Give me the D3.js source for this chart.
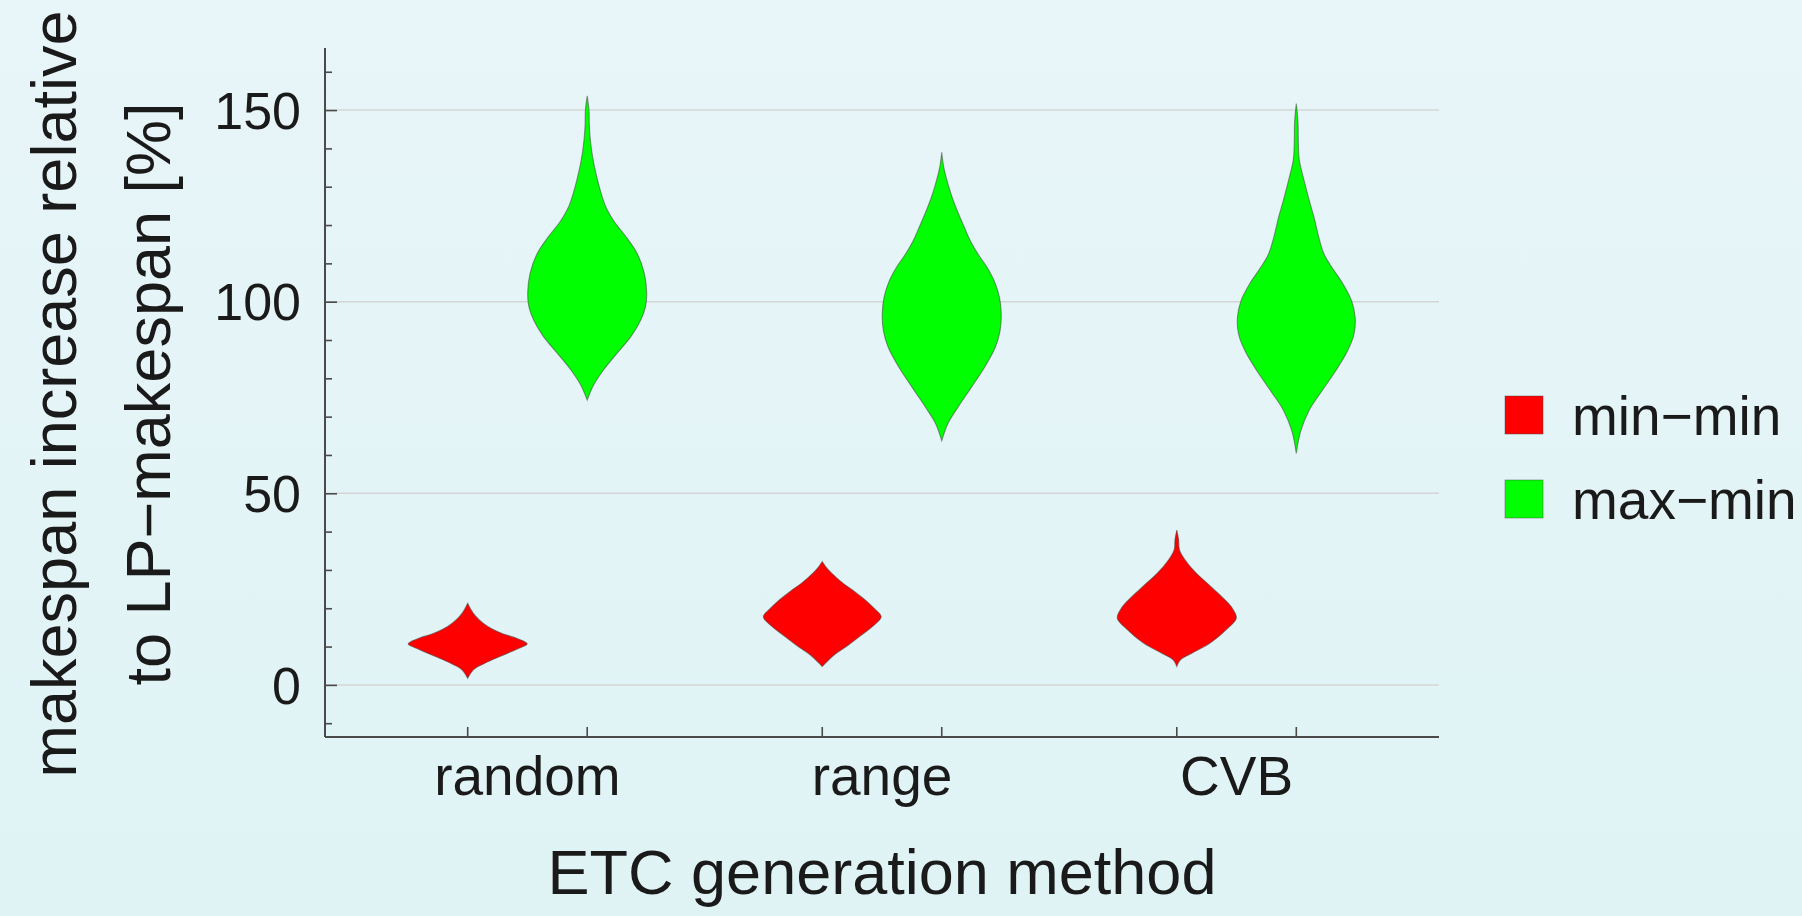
<!DOCTYPE html>
<html>
<head>
<meta charset="utf-8">
<script src="https://cdn.jsdelivr.net/npm/d3@7"></script>
<style>
  html, body { margin: 0; padding: 0; }
  svg { display: block; }
  text { font-family: "Liberation Sans", Arial, Helvetica, sans-serif; fill: #1a1a1a; }
</style>
</head>
<body>
<svg id="chart" width="1802" height="916"></svg>
<script>
// ---------- data ----------
const categories = ["random", "range", "CVB"];
const series = ["min\u2212min", "max\u2212min"];
const seriesColors = ["#ff0000", "#00ff00"];
const yTicks = [0, 50, 100, 150];
const yMinorTicks = [-10, 10, 20, 30, 40, 60, 70, 80, 90, 110, 120, 130, 140, 160];
const xTitle = "ETC generation method";
const yTitleLines = ["makespan increase relative", "to LP\u2212makespan [%]"];

// violin profiles: [value, relative density]
const minminRandom = [[21.3,0],[19.5,0.06],[18.0,0.13],[16.1,0.26],[14.5,0.42],[13.3,0.6],[12.3,0.8],[11.3,0.95],[10.7,1.0],[10.0,0.93],[9.0,0.78],[7.4,0.54],[5.6,0.28],[4.0,0.1],[1.7,0]];
const maxminRandom = [[153.7,0],[150,0.03],[146,0.036],[142,0.055],[137,0.1],[132,0.17],[128,0.24],[124.5,0.32],[121,0.45],[117,0.65],[112.6,0.84],[107.4,0.96],[102.2,1.0],[98.7,0.98],[95.2,0.9],[91,0.74],[86.5,0.5],[82.1,0.27],[78,0.1],[74.3,0]];
const minminRange = [[32.2,0],[30.6,0.07],[29.1,0.16],[26.5,0.35],[24.4,0.54],[22.2,0.72],[20,0.87],[17.8,0.99],[15.7,0.88],[13,0.66],[10.4,0.44],[7.8,0.2],[4.8,0]];
const maxminRange = [[139,0],[135,0.035],[131,0.1],[127,0.18],[123,0.28],[119.4,0.38],[115.9,0.48],[112.4,0.61],[109,0.76],[105.5,0.88],[101.1,0.97],[96.8,1.0],[92.4,0.98],[88.1,0.9],[82.9,0.72],[77.7,0.5],[72.4,0.27],[68.1,0.1],[63.7,0]];
const minminCVB = [[40.4,0],[38,0.03],[35.2,0.045],[32.6,0.14],[29.1,0.33],[25.7,0.57],[22.2,0.81],[19.8,0.94],[17.4,1.0],[14.4,0.83],[10.9,0.56],[8.3,0.26],[6.5,0.06],[4.8,0]];
const maxminCVB = [[151.7,0],[147,0.028],[141,0.035],[137,0.05],[132.3,0.12],[126.3,0.22],[121.9,0.3],[116.7,0.38],[112.3,0.47],[108.9,0.6],[104.5,0.79],[100.2,0.93],[95.8,0.99],[91.5,0.97],[87.1,0.86],[81.9,0.66],[76.7,0.43],[71.5,0.21],[66,0.07],[60.4,0]];

const violins = [
  { cat: "random", ser: 0, profile: minminRandom },
  { cat: "random", ser: 1, profile: maxminRandom },
  { cat: "range",  ser: 0, profile: minminRange },
  { cat: "range",  ser: 1, profile: maxminRange },
  { cat: "CVB",    ser: 0, profile: minminCVB },
  { cat: "CVB",    ser: 1, profile: maxminCVB }
];

// ---------- layout ----------
const W = 1802, H = 916;
const plot = { left: 325, right: 1439, top: 48, bottom: 737 };

const svg = d3.select("#chart");

// background gradient
const defs = svg.append("defs");
const grad = defs.append("linearGradient").attr("id", "bg").attr("x1", 0).attr("y1", 0).attr("x2", 0).attr("y2", 1);
grad.append("stop").attr("offset", "0%").attr("stop-color", "#e8f5f9");
grad.append("stop").attr("offset", "100%").attr("stop-color", "#dff3f5");
svg.append("rect").attr("width", W).attr("height", H).attr("fill", "url(#bg)");

// scales
const y = d3.scaleLinear().domain([-13.6, 166.2]).range([plot.bottom, plot.top]);
const x = d3.scalePoint().domain(categories).range([plot.left, plot.right]).padding(0.571);
const xSub = d3.scalePoint().domain(series).range([-59.75, 59.75]);
const w = d3.scaleLinear().domain([0, 1]).range([0, 59.5]);

// gridlines
svg.append("g").selectAll("line").data(yTicks).join("line")
  .attr("x1", plot.left).attr("x2", plot.right)
  .attr("y1", d => y(d)).attr("y2", d => y(d))
  .attr("stroke", "#d4d6d6").attr("stroke-width", 1.5);

// violins
const g = svg.append("g");
violins.forEach(v => {
  const cx = x(v.cat) + xSub(series[v.ser]);
  const area = d3.area()
    .curve(d3.curveCatmullRom.alpha(0.5))
    .y(d => y(d[0]))
    .x0(d => cx - w(d[1]))
    .x1(d => cx + w(d[1]));
  g.append("path")
    .attr("d", area(v.profile))
    .attr("fill", seriesColors[v.ser])
    .attr("stroke", "rgba(70,70,70,0.55)")
    .attr("stroke-width", 1.1);
});

// axes
const axisColor = "#4a4a4a";
const yAxis = d3.axisRight(y).tickValues(yTicks).tickSize(12).tickFormat("");
const yAxisMinor = d3.axisRight(y).tickValues(yMinorTicks).tickSize(7).tickFormat("");
const gy = svg.append("g").attr("transform", `translate(${plot.left},0)`).call(yAxis);
const gyMinor = svg.append("g").attr("transform", `translate(${plot.left},0)`).call(yAxisMinor);
[gy, gyMinor].forEach(a => {
  a.select(".domain").remove();
  a.selectAll("line").attr("stroke", axisColor).attr("stroke-width", 1.6);
});
svg.append("line").attr("x1", plot.left).attr("x2", plot.left)
  .attr("y1", plot.top).attr("y2", plot.bottom)
  .attr("stroke", axisColor).attr("stroke-width", 2);

// y tick labels
svg.append("g").selectAll("text").data(yTicks).join("text")
  .attr("x", 301).attr("y", d => y(d)).attr("dy", "0.36em")
  .attr("text-anchor", "end").attr("font-size", 52)
  .text(d => d);

// x axis
const xTickPos = [];
categories.forEach(c => series.forEach(s => xTickPos.push(x(c) + xSub(s))));
svg.append("g").selectAll("line").data(xTickPos).join("line")
  .attr("x1", d => d).attr("x2", d => d)
  .attr("y1", plot.bottom).attr("y2", plot.bottom - 10)
  .attr("stroke", axisColor).attr("stroke-width", 1.6);
svg.append("line").attr("x1", plot.left).attr("x2", plot.right)
  .attr("y1", plot.bottom).attr("y2", plot.bottom)
  .attr("stroke", axisColor).attr("stroke-width", 2);

svg.append("g").selectAll("text").data(categories).join("text")
  .attr("x", d => x(d)).attr("y", 795)
  .attr("text-anchor", "middle").attr("font-size", 55)
  .text(d => d);

// titles
svg.append("text").attr("x", (plot.left + plot.right) / 2).attr("y", 894)
  .attr("text-anchor", "middle").attr("font-size", 63).text(xTitle);

const yt = svg.append("g").attr("transform", `translate(0,394)`);
yTitleLines.forEach((t, i) => {
  yt.append("text")
    .attr("transform", `translate(${76 + i * 94},0) rotate(-90)`)
    .attr("text-anchor", "middle").attr("font-size", 63).text(t);
});

// legend
const leg = svg.append("g");
series.forEach((s, i) => {
  leg.append("rect").attr("x", 1505).attr("y", 396 + i * 84).attr("width", 38).attr("height", 38)
    .attr("fill", seriesColors[i]).attr("stroke", "rgba(70,70,70,0.45)").attr("stroke-width", 1);
  leg.append("text").attr("x", 1572).attr("y", 415 + i * 84).attr("dy", "0.36em")
    .attr("font-size", 55).text(s);
});
</script>
</body>
</html>
